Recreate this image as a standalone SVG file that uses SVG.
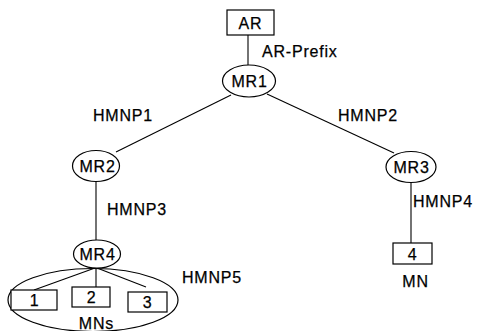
<svg xmlns="http://www.w3.org/2000/svg" width="485" height="331" viewBox="0 0 485 331">
<style>
.n{fill:#fff;stroke:#000;stroke-width:1.2}
.c{stroke:#000;stroke-width:1.1;fill:none}
text{font-family:"Liberation Sans",Arial,sans-serif;font-size:16px;letter-spacing:0.8px;fill:#000;stroke:#000;stroke-width:0.25}
.m{text-anchor:middle}
</style>
<rect width="485" height="331" fill="#fff"/>
<g id="mns-group"><ellipse class="n" cx="93" cy="300" rx="85" ry="31.5"/></g>
<g id="connectors">
<line class="c" x1="248" y1="35" x2="248" y2="65"/>
<line class="c" x1="231" y1="95" x2="116" y2="152"/>
<line class="c" x1="267" y1="94" x2="394" y2="153"/>
<line class="c" x1="96" y1="182" x2="96" y2="240"/>
<line class="c" x1="411" y1="183" x2="411" y2="243"/>
<line class="c" x1="95" y1="268" x2="34" y2="290"/>
<line class="c" x1="96" y1="268" x2="96" y2="287"/>
<line class="c" x1="97" y1="268" x2="146" y2="287"/>
</g>
<g id="AR"><rect class="n" x="227" y="10" width="47" height="25"/><text class="m" x="250.5" y="28.5">AR</text></g>
<g id="MR1"><ellipse class="n" cx="249" cy="81" rx="26.5" ry="16"/><text class="m" x="249.5" y="87">MR1</text></g>
<g id="MR2"><ellipse class="n" cx="96" cy="166" rx="23.5" ry="15.5"/><text class="m" x="97.5" y="171.5">MR2</text></g>
<g id="MR3"><ellipse class="n" cx="411" cy="167" rx="25" ry="15.5"/><text class="m" x="411.5" y="172.5">MR3</text></g>
<g id="MR4"><ellipse class="n" cx="97" cy="254" rx="23.5" ry="14"/><text class="m" x="97.5" y="259.5">MR4</text></g>
<g id="MN1"><rect class="n" x="11" y="290" width="46" height="20"/><text class="m" x="34.5" y="306">1</text></g>
<g id="MN2"><rect class="n" x="72" y="287" width="38" height="20"/><text class="m" x="91.5" y="303">2</text></g>
<g id="MN3"><rect class="n" x="128" y="292" width="39" height="20"/><text class="m" x="147.5" y="308">3</text></g>
<g id="MN4"><rect class="n" x="393" y="243" width="39" height="21"/><text class="m" x="412.5" y="259.5">4</text></g>
<g id="labels">
<text x="262" y="57">AR-Prefix</text>
<text x="93" y="121">HMNP1</text>
<text x="338" y="121">HMNP2</text>
<text x="107" y="215">HMNP3</text>
<text x="413" y="207">HMNP4</text>
<text x="182" y="283">HMNP5</text>
<text class="m" x="415.5" y="287">MN</text>
<text class="m" x="96.5" y="329">MNs</text>
</g>
</svg>
